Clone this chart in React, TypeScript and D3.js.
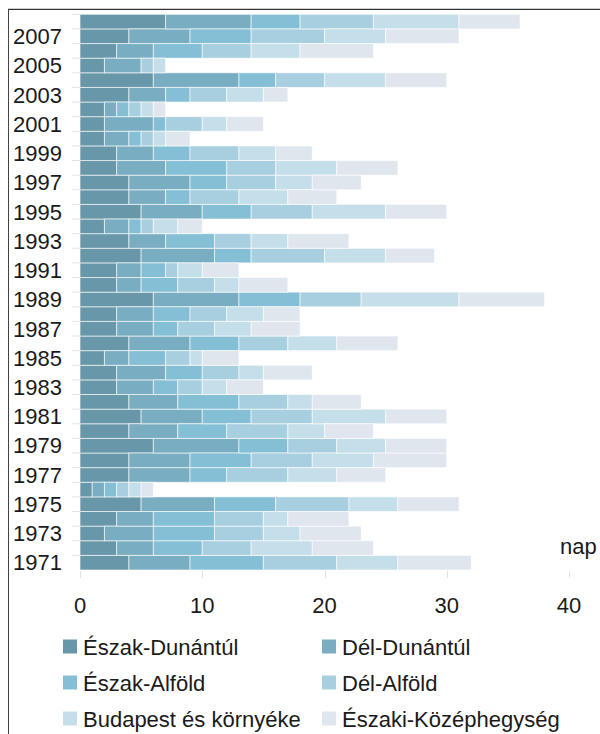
import React, { useEffect, useRef } from "react"
import * as d3 from "d3"

const years = d3.range(1971, 2009)

const regions = [
  "Észak-Dunántúl",
  "Dél-Dunántúl",
  "Észak-Alföld",
  "Dél-Alföld",
  "Budapest és környéke",
  "Északi-Középhegység",
]

// napok száma évenként (1971 -> 2008)
const eszakDunantul = [4, 3, 2, 3, 5, 1, 4, 4, 6, 4, 5, 4, 3, 3, 2, 4, 3, 3, 6, 3, 3, 5, 4, 2, 5, 4, 4, 3, 3, 2, 2, 2, 4, 6, 2, 3, 4, 7]
const delDunantul = [5, 3, 4, 3, 6, 1, 5, 5, 7, 4, 5, 4, 3, 4, 2, 5, 3, 3, 7, 2, 2, 6, 3, 2, 5, 3, 5, 4, 3, 2, 4, 1, 3, 7, 3, 3, 5, 7]
const eszakAlfold = [6, 4, 5, 5, 5, 1, 3, 5, 4, 4, 4, 5, 2, 3, 3, 4, 2, 3, 5, 3, 2, 3, 4, 1, 4, 2, 3, 5, 3, 1, 1, 1, 2, 3, 0, 4, 5, 4]
const delAlfold = [6, 4, 4, 4, 6, 1, 5, 5, 4, 5, 5, 4, 2, 3, 2, 4, 3, 3, 5, 3, 1, 6, 3, 1, 5, 4, 4, 4, 4, 1, 3, 1, 3, 4, 1, 4, 6, 6]
const budapest = [5, 5, 3, 2, 4, 1, 4, 5, 4, 3, 6, 2, 2, 2, 1, 4, 3, 3, 8, 2, 2, 5, 3, 2, 6, 4, 3, 5, 3, 1, 2, 1, 3, 5, 1, 4, 5, 7]
const eszakiKozep = [6, 5, 5, 5, 5, 1, 4, 6, 5, 4, 5, 4, 3, 4, 3, 5, 4, 3, 7, 4, 3, 4, 5, 2, 5, 4, 4, 5, 3, 2, 3, 1, 2, 5, 0, 6, 6, 5]

const xTicks = [0, 10, 20, 30, 40]

const colors = ["#6897a9", "#79adc2", "#85bfd6", "#a7cfe0", "#c5dfea", "#dfe6ee"]

export default function App() {
  const ref = useRef<SVGSVGElement>(null)

  useEffect(() => {
    const width = 600
    const height = 734
    const svg = d3.select(ref.current).attr("width", width).attr("height", height)
    svg.selectAll("*").remove()

    const series = [eszakDunantul, delDunantul, eszakAlfold, delAlfold, budapest, eszakiKozep]
    const data = years.map((year, i) => {
      const row: any = { year }
      regions.forEach((r, j) => (row[r] = series[j][i]))
      return row
    })

    const stacked = d3.stack().keys(regions)(data)

    const x = d3.scaleLinear().domain([0, 40]).range([80, 569])
    const y = d3
      .scaleBand()
      .domain(years.slice().reverse().map(String))
      .range([14.3, 570])
      .padding(0)

    const color = d3.scaleOrdinal<string>().domain(regions).range(colors)

    const font = "'Liberation Sans', Arial, sans-serif"

    // keret
    svg
      .append("line")
      .attr("x1", 8)
      .attr("x2", width)
      .attr("y1", 8.5)
      .attr("y2", 8.5)
      .attr("stroke", "#cfcfcf")
    svg
      .append("line")
      .attr("x1", 8)
      .attr("x2", width)
      .attr("y1", 9.5)
      .attr("y2", 9.5)
      .attr("stroke", "#333")
    svg
      .append("line")
      .attr("x1", 8.5)
      .attr("x2", 8.5)
      .attr("y1", 9)
      .attr("y2", height)
      .attr("stroke", "#444")

    // y tengely jelölők
    svg
      .append("g")
      .selectAll("line")
      .data(years)
      .enter()
      .append("line")
      .attr("x1", 72)
      .attr("x2", 80)
      .attr("y1", (d) => y(String(d))!)
      .attr("y2", (d) => y(String(d))!)
      .attr("stroke", "#e2e2e2")

    // x tengely jelölők
    svg
      .append("g")
      .selectAll("line")
      .data(xTicks)
      .enter()
      .append("line")
      .attr("x1", (d) => Math.round(x(d)) + 0.5)
      .attr("x2", (d) => Math.round(x(d)) + 0.5)
      .attr("y1", 571)
      .attr("y2", 578)
      .attr("stroke", "#e2e2e2")

    // oszlopok
    svg
      .append("g")
      .selectAll("g")
      .data(stacked)
      .enter()
      .append("g")
      .attr("fill", (d) => color(d.key))
      .selectAll("rect")
      .data((d) => d)
      .enter()
      .append("rect")
      .attr("x", (d) => x(d[0]))
      .attr("y", (d) => y(String(d.data.year))!)
      .attr("width", (d) => x(d[1]) - x(d[0]))
      .attr("height", y.bandwidth())
      .attr("stroke", "#ffffff")
      .attr("stroke-opacity", 0.6)
      .attr("stroke-width", 1)

    // évszámok
    svg
      .append("g")
      .selectAll("text")
      .data(years.filter((d) => d % 2 === 1))
      .enter()
      .append("text")
      .attr("x", 62)
      .attr("y", (d) => y(String(d))! + y.bandwidth() / 2 + 7.8)
      .attr("text-anchor", "end")
      .style("font-family", font)
      .style("font-size", "22px")
      .style("fill", "#1a1a1a")
      .text((d) => d)

    // x tengely feliratok
    svg
      .append("g")
      .selectAll("text")
      .data(xTicks)
      .enter()
      .append("text")
      .attr("x", (d) => x(d))
      .attr("y", 613)
      .attr("text-anchor", "middle")
      .style("font-family", font)
      .style("font-size", "22px")
      .style("fill", "#1a1a1a")
      .text((d) => d)

    svg
      .append("text")
      .attr("x", 560)
      .attr("y", 554)
      .style("font-family", font)
      .style("font-size", "22px")
      .style("fill", "#1a1a1a")
      .text("nap")

    // jelmagyarázat
    const legend = svg
      .append("g")
      .selectAll("g")
      .data(regions)
      .enter()
      .append("g")
      .attr("transform", (d, i) => "translate(" + (i % 2 === 0 ? 63 : 322) + "," + (654.5 + Math.floor(i / 2) * 36) + ")")

    legend
      .append("rect")
      .attr("x", 0)
      .attr("y", -15)
      .attr("width", 14)
      .attr("height", 14)
      .attr("fill", (d) => color(d))

    legend
      .append("text")
      .attr("x", 20)
      .attr("y", 0)
      .style("font-family", font)
      .style("font-size", "22px")
      .style("fill", "#1a1a1a")
      .text((d) => d)
  }, [])

  return (
    <div style={{ position: "absolute", left: 0, top: 0, width: 600, height: 734, overflow: "hidden" }}>
      <svg ref={ref} style={{ display: "block" }}></svg>
    </div>
  )
}
